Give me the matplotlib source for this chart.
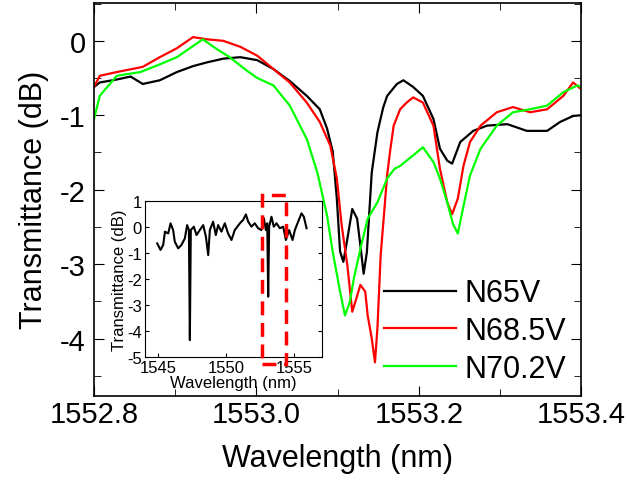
import numpy as np
import matplotlib.pyplot as plt
from matplotlib.patches import Rectangle
from matplotlib.ticker import MultipleLocator

plt.rcParams['font.family'] = ['Liberation Sans', 'DejaVu Sans']
plt.rcParams['axes.unicode_minus'] = False

# main spectra (wavelength in nm, transmittance in dB)
wl_65 = [1552.800, 1552.807, 1552.828, 1552.845, 1552.860, 1552.881, 1552.902, 1552.922,
         1552.939, 1552.959, 1552.980, 1553.001, 1553.021, 1553.041, 1553.062, 1553.078,
         1553.087, 1553.094, 1553.099, 1553.103, 1553.107, 1553.112, 1553.118, 1553.124,
         1553.128, 1553.132, 1553.136, 1553.142, 1553.149, 1553.156, 1553.161, 1553.173,
         1553.181, 1553.193, 1553.205, 1553.218, 1553.226, 1553.235, 1553.241, 1553.251,
         1553.267, 1553.284, 1553.309, 1553.333, 1553.358, 1553.374, 1553.390, 1553.400]
t_65 = [-0.62, -0.56, -0.52, -0.48, -0.58, -0.53, -0.42, -0.34,
        -0.29, -0.24, -0.22, -0.26, -0.38, -0.54, -0.74, -0.92,
        -1.18, -1.49, -2.12, -2.83, -2.97, -2.66, -2.26, -2.39,
        -2.75, -3.13, -2.84, -1.77, -1.23, -0.90, -0.74, -0.58,
        -0.53, -0.62, -0.74, -1.05, -1.45, -1.61, -1.65, -1.36,
        -1.21, -1.14, -1.12, -1.21, -1.21, -1.09, -1.01, -1.00]

wl_685 = [1552.800, 1552.807, 1552.828, 1552.860, 1552.881, 1552.902, 1552.922, 1552.939,
          1552.959, 1552.980, 1553.001, 1553.021, 1553.041, 1553.062, 1553.078, 1553.091,
          1553.099, 1553.105, 1553.112, 1553.118, 1553.122, 1553.128, 1553.134, 1553.137,
          1553.142, 1553.146, 1553.149, 1553.153, 1553.158, 1553.161, 1553.165, 1553.169,
          1553.177, 1553.185, 1553.193, 1553.205, 1553.218, 1553.226, 1553.235, 1553.241,
          1553.248, 1553.255, 1553.263, 1553.276, 1553.296, 1553.316, 1553.337, 1553.358,
          1553.378, 1553.390, 1553.400]
t_685 = [-0.62, -0.47, -0.42, -0.35, -0.22, -0.10, 0.05, 0.02,
         0.00, -0.08, -0.20, -0.38, -0.56, -0.83, -1.09, -1.41,
         -1.85, -2.48, -3.02, -3.64, -3.50, -3.28, -3.37, -3.69,
         -4.00, -4.32, -3.86, -2.88, -2.21, -1.80, -1.45, -1.14,
         -0.92, -0.83, -0.76, -0.83, -1.14, -1.72, -2.17, -2.33,
         -2.12, -1.68, -1.36, -1.14, -0.96, -0.89, -0.96, -0.92,
         -0.74, -0.56, -0.65]

wl_702 = [1552.800, 1552.807, 1552.828, 1552.857, 1552.878, 1552.902, 1552.922, 1552.934,
          1552.951, 1552.967, 1552.988, 1553.001, 1553.021, 1553.041, 1553.062, 1553.075,
          1553.087, 1553.094, 1553.103, 1553.109, 1553.115, 1553.120, 1553.129, 1553.137,
          1553.149, 1553.161, 1553.170, 1553.177, 1553.193, 1553.205, 1553.218, 1553.226,
          1553.235, 1553.242, 1553.248, 1553.255, 1553.263, 1553.276, 1553.296, 1553.316,
          1553.337, 1553.358, 1553.378, 1553.395, 1553.400]
t_702 = [-1.05, -0.74, -0.47, -0.42, -0.33, -0.22, -0.07, 0.02,
         -0.11, -0.22, -0.40, -0.50, -0.60, -0.87, -1.32, -1.77,
         -2.35, -2.84, -3.37, -3.69, -3.51, -3.19, -2.75, -2.39,
         -2.17, -1.85, -1.72, -1.68, -1.54, -1.43, -1.63, -1.85,
         -2.17, -2.46, -2.59, -2.22, -1.81, -1.45, -1.14, -0.96,
         -0.92, -0.87, -0.69, -0.60, -0.62]

# inset: broad scan
wl_wide = [1544.91, 1545.15, 1545.35, 1545.48, 1545.72, 1545.89, 1546.08, 1546.20,
           1546.45, 1546.69, 1546.94, 1547.11, 1547.24, 1547.31, 1547.38, 1547.60,
           1547.80, 1548.04, 1548.29, 1548.49, 1548.66, 1548.78, 1549.02, 1549.22,
           1549.39, 1549.63, 1549.88, 1550.12, 1550.37, 1550.61, 1550.99, 1551.23,
           1551.43, 1551.60, 1551.84, 1552.08, 1552.33, 1552.57, 1552.75, 1552.90,
           1553.00, 1553.07, 1553.14, 1553.31, 1553.48, 1553.68, 1553.92, 1554.17,
           1554.37, 1554.61, 1554.86, 1555.03, 1555.27, 1555.52, 1555.69, 1555.89]
t_wide = [-0.64, -0.89, -0.70, -0.19, -0.26, 0.13, -0.13, -0.57,
          -0.83, -0.70, -0.45, 0.06, -0.13, -4.34, -0.13, 0.00,
          -0.32, -0.13, 0.06, -0.38, -1.09, -0.13, 0.19, -0.32,
          0.06, -0.19, 0.13, -0.26, -0.51, -0.13, 0.13, 0.26,
          0.47, 0.19, 0.00, 0.13, -0.06, -0.13, 0.32, -0.13,
          0.13, -2.68, 0.00, 0.38, 0.00, 0.13, -0.06, 0.00,
          -0.51, -0.13, -0.51, -0.13, 0.19, 0.51, 0.38, -0.06]

# zoomed window marked on the inset
box_x = [1552.65, 1554.35]
box_y = [-5.26, 1.22]

fig = plt.figure(figsize=(6.27, 4.81), dpi=100)
ax = fig.add_axes([0.150, 0.175, 0.777, 0.817])
ax.plot(wl_65, t_65, color='black', lw=1.6, label='N65V')
ax.plot(wl_685, t_685, color='#ff0000', lw=1.6, label='N68.5V')
ax.plot(wl_702, t_702, color='#00ff00', lw=1.6, label='N70.2V')
ax.set_xlim(1552.8, 1553.4)
ax.set_ylim(-4.77, 0.51)
ax.xaxis.set_major_locator(MultipleLocator(0.2))
ax.xaxis.set_minor_locator(MultipleLocator(0.1))
ax.yaxis.set_major_locator(MultipleLocator(1))
ax.yaxis.set_minor_locator(MultipleLocator(0.5))
ax.xaxis.set_major_formatter(plt.FormatStrFormatter('%.1f'))
ax.tick_params(which='both', direction='in', top=True, right=True, labelsize=21)
ax.tick_params(which='major', length=7)
ax.tick_params(which='minor', length=5)
ax.tick_params(axis='x', pad=3)
ax.tick_params(axis='y', pad=6)
ax.set_xlabel('Wavelength (nm)', fontsize=22, labelpad=11)
ax.set_ylabel('Transmittance (dB)', fontsize=22, labelpad=8)
for s in ax.spines.values():
    s.set_linewidth(1.2)
ax.legend(loc='lower right', bbox_to_anchor=(0.995, 0.0), frameon=False, fontsize=22,
          handlelength=2.35, handletextpad=0.3, labelspacing=0.25, borderaxespad=0)

ins = fig.add_axes([0.231, 0.255, 0.282, 0.326])
ins.plot(wl_wide, t_wide, color='black', lw=1.5)
ins.set_xlim(1544, 1557)
ins.set_ylim(-5, 1)
ins.xaxis.set_major_locator(MultipleLocator(5))
ins.yaxis.set_major_locator(MultipleLocator(1))
ins.tick_params(direction='in', right=True, labelsize=12, length=3, pad=2)
ins.set_xlabel('Wavelength (nm)', fontsize=12, labelpad=0)
ins.set_ylabel('Transmittance (dB)', fontsize=12, labelpad=0)
ins.add_patch(Rectangle((box_x[0], box_y[0]), box_x[1] - box_x[0], box_y[1] - box_y[0],
                        fill=False, edgecolor='#ff0000', lw=2.5, ls=(0, (4, 2.2)),
                        clip_on=False, zorder=5))

fig.savefig('out.png', dpi=100)
